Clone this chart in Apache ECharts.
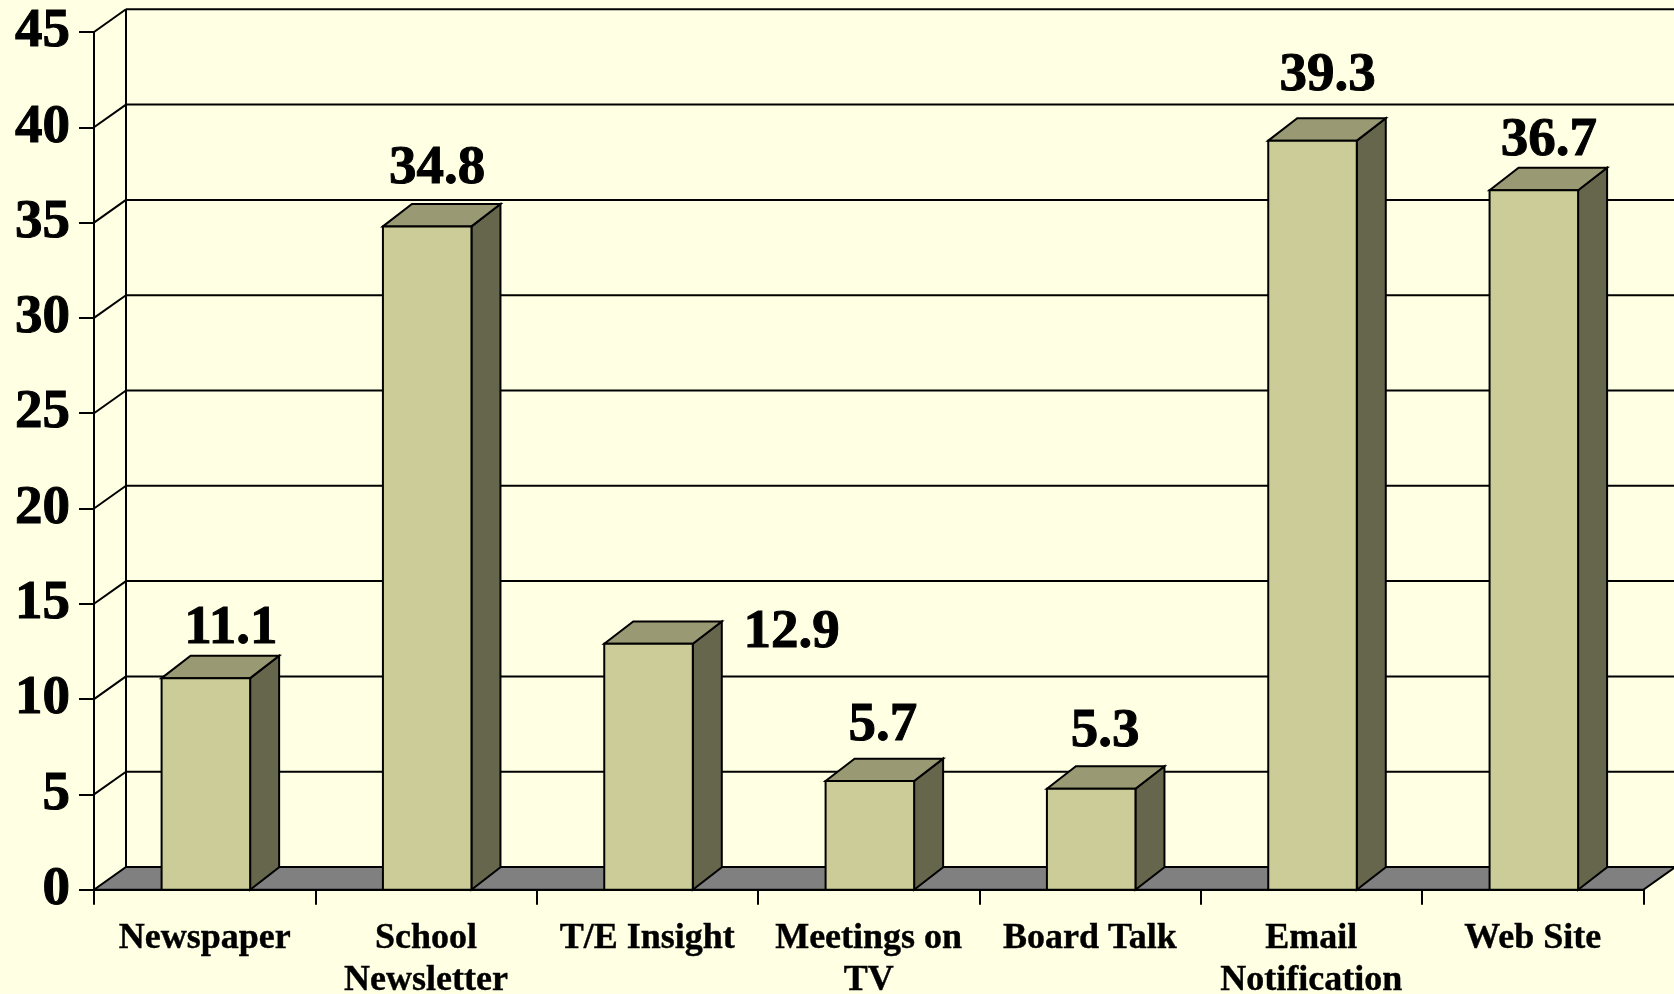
<!DOCTYPE html>
<html>
<head>
<meta charset="utf-8">
<style>html,body{margin:0;padding:0;background:#FFFFE3}#c{width:1674px;height:994px}</style>
<script src="https://cdn.jsdelivr.net/npm/echarts@6/dist/echarts.min.js"></script>
</head>
<body>
<div id="c"></div>
<script>
const categories = ['Newspaper', 'School\nNewsletter', 'T/E Insight', 'Meetings on\nTV', 'Board Talk', 'Email\nNotification', 'Web Site'];
const values = [11.1, 34.8, 12.9, 5.7, 5.3, 39.3, 36.7];
const yTicks = [0, 5, 10, 15, 20, 25, 30, 35, 40, 45];

const labelShift = [[25, -49], [10, -58], [143, -11], [13, -55], [14, -57], [15, -65], [15, -49]];
const wallDepth = [32, 22.7];
const barDepth = [29, 22.4];
const serif = '"Liberation Serif", "Times New Roman", serif';
const lineCol = '#000';

function pts(a) { return { points: a }; }

function renderWall(params, api) {
  const t = api.value(0);
  const cs = params.coordSys;
  const y = api.coord([0, t])[1];
  const L = cs.x, R = cs.x + cs.width, dx = wallDepth[0], dy = wallDepth[1];
  const kids = [];
  if (t === 0) {
    kids.push({ type: 'polygon', shape: pts([[L, y], [R, y], [R + dx, y - dy], [L + dx, y - dy]]),
      style: { fill: '#808080', stroke: lineCol, lineWidth: 2 } });
    kids.push({ type: 'line', shape: { x1: L + dx, y1: y - dy, x2: L + dx, y2: cs.y - dy },
      style: { stroke: lineCol, lineWidth: 2 } });
  } else {
    kids.push({ type: 'line', shape: { x1: L + dx, y1: y - dy, x2: R + dx, y2: y - dy },
      style: { stroke: lineCol, lineWidth: 2 } });
    kids.push({ type: 'line', shape: { x1: L, y1: y, x2: L + dx, y2: y - dy },
      style: { stroke: lineCol, lineWidth: 2 } });
  }
  return { type: 'group', children: kids };
}

function renderBar(params, api) {
  const i = api.value(0), v = api.value(1);
  const top = api.coord([i, v]);
  const base = api.coord([i, 0]);
  const w = api.size([1, 0])[0] * 0.4;
  const x0 = top[0] - w / 2 + 1.2, x1 = x0 + w;
  const dx = barDepth[0], dy = barDepth[1];
  const border = { stroke: lineCol, lineWidth: 2, lineJoin: 'miter' };
  const s = labelShift[i];
  return { type: 'group', children: [
    { type: 'polygon', shape: pts([[x1, top[1]], [x1 + dx, top[1] - dy], [x1 + dx, base[1] - dy], [x1, base[1]]]),
      style: Object.assign({ fill: '#66664D' }, border) },
    { type: 'polygon', shape: pts([[x0, top[1]], [x0 + dx, top[1] - dy], [x1 + dx, top[1] - dy], [x1, top[1]]]),
      style: Object.assign({ fill: '#999973' }, border) },
    { type: 'rect', shape: { x: x0, y: top[1], width: w, height: base[1] - top[1] },
      style: Object.assign({ fill: '#CCCC99' }, border) },
    { type: 'text', style: { text: v.toFixed(1), x: (x0 + x1) / 2 + s[0], y: top[1] + s[1],
      align: 'center', verticalAlign: 'middle', fill: '#000', stroke: '#000', lineWidth: 1,
      font: 'bold 55px ' + serif } }
  ] };
}

const chart = echarts.init(document.getElementById('c'), null, { renderer: 'canvas' });
chart.setOption({
  animation: false,
  backgroundColor: '#FFFFE3',
  grid: { left: 94, top: 32, width: 1549.3, height: 857.7, containLabel: false, outerBoundsMode: 'none' },
  xAxis: {
    type: 'category', data: categories,
    axisLine: { lineStyle: { color: lineCol, width: 2 } },
    axisTick: { show: true, alignWithLabel: false, interval: 0, length: 15, lineStyle: { color: lineCol, width: 2 } },
    axisLabel: { interval: 0, margin: 28, color: '#000', fontFamily: serif, fontWeight: 'bold', fontSize: 36, lineHeight: 42, textBorderColor: '#000', textBorderWidth: 0.4 },
    splitLine: { show: false }
  },
  yAxis: {
    type: 'value', min: 0, max: 45, interval: 5,
    axisLine: { show: true, lineStyle: { color: lineCol, width: 2 } },
    axisTick: { show: true, length: 15, lineStyle: { color: lineCol, width: 2 } },
    axisLabel: { margin: 24, color: '#000', fontFamily: serif, fontWeight: 'bold', fontSize: 55, textBorderColor: '#000', textBorderWidth: 1 },
    splitLine: { show: false }
  },
  series: [
    { type: 'custom', name: 'wall', coordinateSystem: 'cartesian2d', renderItem: renderWall, z: 1, silent: true, clip: false,
      data: yTicks.map(t => [t]), encode: { y: 0 } },
    { type: 'custom', name: 'bars', coordinateSystem: 'cartesian2d', renderItem: renderBar, z: 3, silent: true, clip: false,
      data: values.map((v, i) => [i, v]), encode: { x: 0, y: 1 } }
  ]
});
</script>
</body>
</html>
